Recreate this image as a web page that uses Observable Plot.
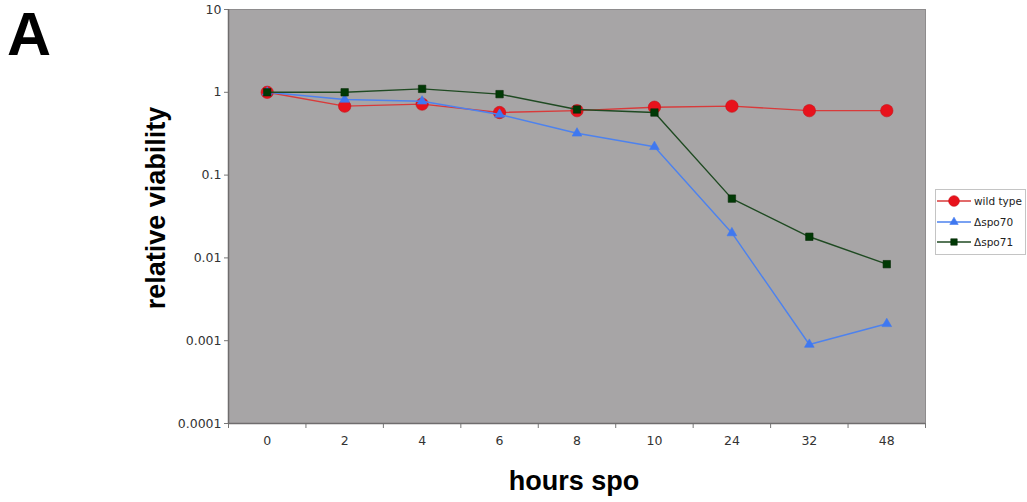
<!DOCTYPE html>
<html><head><meta charset="utf-8">
<script src="https://cdn.jsdelivr.net/npm/d3@7"></script>
<script src="https://cdn.jsdelivr.net/npm/@observablehq/plot@0.6"></script>
<style>
body{margin:0;background:#fff;}
#wrap{position:relative;width:1027px;height:502px;font-family:"Liberation Sans",Arial,Helvetica,sans-serif;}
#panel{position:absolute;left:7px;top:0px;font-size:61px;font-weight:bold;line-height:1.13;color:#000;}
#legend{position:absolute;left:935px;top:189px;width:91px;height:66px;border:1px solid #c4c4c4;background:#fff;box-sizing:border-box;font-family:"DejaVu Sans",sans-serif;font-size:10.5px;color:#222;}
.row{position:absolute;left:0;height:14px;display:flex;align-items:center;}
.row span{margin-left:2px;}
</style></head><body><div id="wrap"><div id="chart"></div><div id="panel">A</div><div id="legend"></div></div>
<script>
const hours = ["0","2","4","6","8","10","24","32","48"];
const wildType = [1, 0.68, 0.72, 0.57, 0.6, 0.66, 0.68, 0.6, 0.6];
const spo70 = [1, 0.82, 0.78, 0.54, 0.32, 0.22, 0.02, 0.0009, 0.0016];
const spo71 = [1, 1.0, 1.1, 0.95, 0.62, 0.57, 0.052, 0.018, 0.0084];
const seriesNames = ["wild type", "\u0394spo70", "\u0394spo71"];
const yTicks = [0.0001, 0.001, 0.01, 0.1, 1, 10];
const yTickLabels = ["0.0001", "0.001", "0.01", "0.1", "1", "10"];
const xTitle = "hours spo";
const yTitle = "relative viability";

const styles = [
  {line: "#d93a3a", fill: "#e8121c", stroke: "#c81018", symbol: "circle", r: 6.2},
  {line: "#4d82ee", fill: "#3f78f0", stroke: "#3f78f0", symbol: "triangle", r: 3.6},
  {line: "#1f4a22", fill: "#013a05", stroke: "#0a2a0a", symbol: "square", r: 4.2}
];
const seriesValues = [wildType, spo70, spo71];
const rows = [];
seriesValues.forEach((vals, s) => vals.forEach((v, i) => rows.push({series: seriesNames[s], s, i, hour: hours[i], v})));
const idx = hours.map((h, i) => i);
const bounds = hours.concat([""]).map((h, i) => i - 0.5);

const marks = [
  Plot.frame({fill: "#a7a5a6", stroke: "#8e8c8d"}),
  Plot.axisX({ticks: bounds, tickFormat: () => "", tickSize: 5, stroke: "#777", label: null}),
  Plot.axisX({ticks: idx, tickFormat: i => hours[i], tickSize: 0, tickPadding: 13, fontSize: 12.5, fill: "#333", fontFamily: "DejaVu Sans, sans-serif", label: null}),
  Plot.axisY({ticks: yTicks, tickFormat: d => yTickLabels[yTicks.indexOf(d)], tickSize: 4, tickPadding: 3, fontSize: 12.5, fill: "#333", stroke: "#777", fontFamily: "DejaVu Sans, sans-serif", label: null}),
  Plot.ruleX([-0.5], {stroke: "#6f6d6e", strokeWidth: 1.5}),
  Plot.ruleY([1e-4], {stroke: "#6f6d6e", strokeWidth: 1.5}),
];
styles.forEach((st, s) => {
  const data = rows.filter(d => d.s === s);
  marks.push(Plot.line(data, {x: "i", y: "v", stroke: st.line, strokeWidth: 1.4}));
  marks.push(Plot.dot(data, {x: "i", y: "v", symbol: () => st.symbol, r: st.r, fill: st.fill, stroke: st.stroke, strokeWidth: 0.6}));
});
marks.push(Plot.text([yTitle], {frameAnchor: "left", textAnchor: "middle", lineAnchor: "middle", rotate: -90, dx: -72, dy: -8.5, fontSize: 27, fontWeight: "bold", fill: "#000", fontFamily: "Liberation Sans, Arial, sans-serif", text: d => d}));
marks.push(Plot.text([xTitle], {frameAnchor: "bottom", textAnchor: "middle", lineAnchor: "middle", dy: 58, dx: -3, fontSize: 27, fontWeight: "bold", fill: "#000", fontFamily: "Liberation Sans, Arial, sans-serif", text: d => d}));

const chart = Plot.plot({
  width: 1027, height: 502,
  marginLeft: 228, marginRight: 102, marginTop: 9, marginBottom: 79,
  style: {background: "white", overflow: "visible"},
  x: {type: "linear", domain: [-0.5, 8.5], axis: null},
  y: {type: "log", domain: [1e-4, 10], axis: null},
  symbol: {type: "identity"},
  marks
});
document.getElementById("chart").appendChild(chart);

// legend
const leg = d3.select("#legend");
const sym = {circle: d3.symbolCircle, triangle: d3.symbolTriangle, square: d3.symbolSquare};
seriesNames.forEach((name, s) => {
  const st = styles[s];
  const row = leg.append("div").attr("class", "row").style("top", (4 + s * 20.7) + "px");
  const svg = row.append("svg").attr("width", 36).attr("height", 14);
  svg.append("line").attr("x1", 1).attr("x2", 35).attr("y1", 7).attr("y2", 7).attr("stroke", st.line).attr("stroke-width", 1.4);
  svg.append("path").attr("transform", "translate(18,7)").attr("d", d3.symbol(sym[st.symbol], Math.PI * st.r * st.r * 0.75)()).attr("fill", st.fill).attr("stroke", st.stroke).attr("stroke-width", 0.6);
  row.append("span").text(name);
});
</script></body></html>
